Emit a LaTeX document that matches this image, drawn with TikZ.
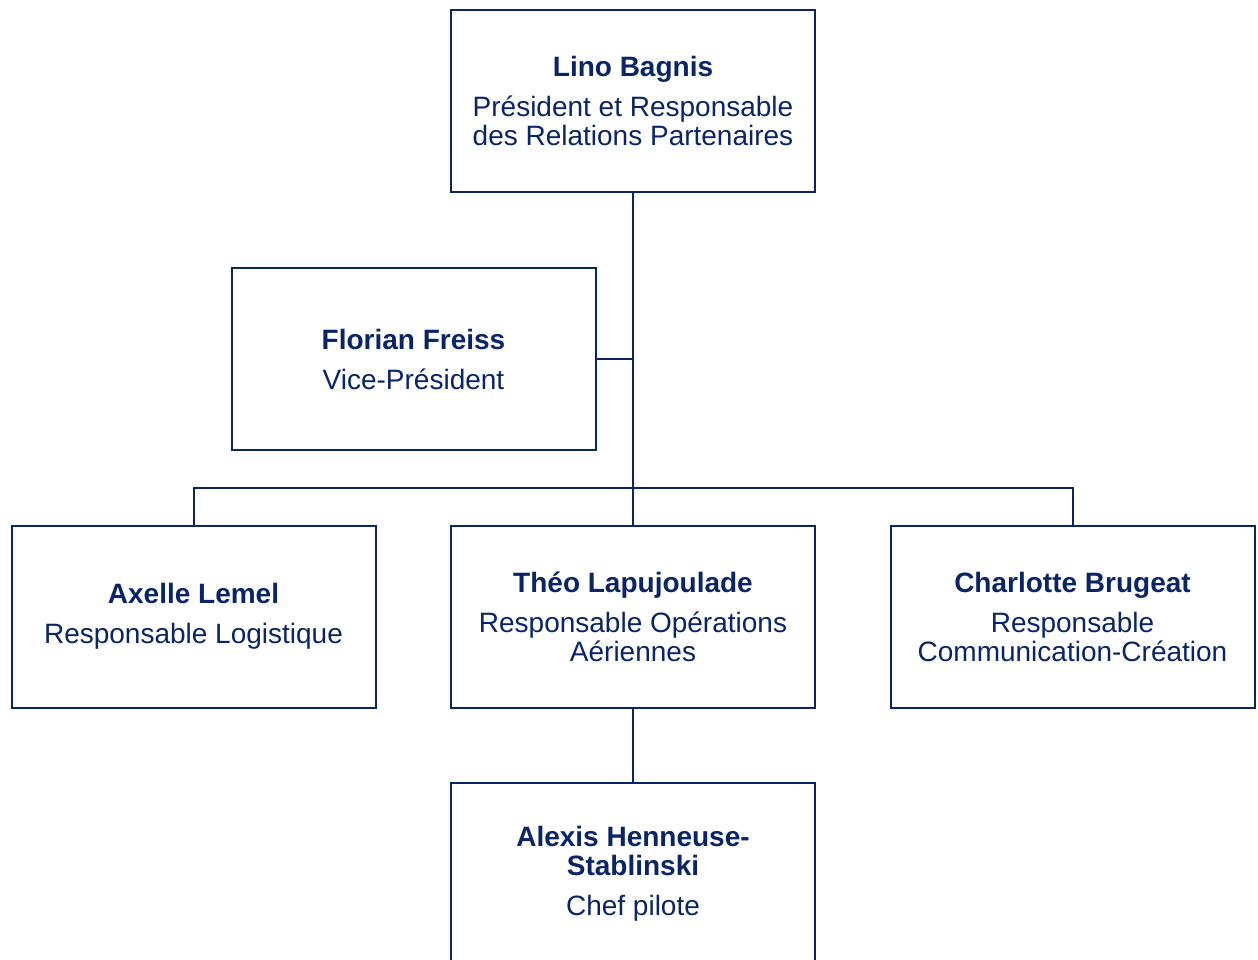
\documentclass[tikz,border=0pt]{standalone}
\usepackage{fontspec}
\setmainfont{Liberation Sans}
\definecolor{navy}{RGB}{10,36,104}

\begin{document}
\begin{tikzpicture}[
        x=1pt, y=-1pt,
        box/.style={draw=navy, line width=2pt, fill=white, minimum width=364pt, minimum height=182pt, align=center, text=navy, font=\fontsize{28}{29}\selectfont, inner sep=0pt},
        link/.style={draw=navy, line width=2pt}
    ]
        \useasboundingbox (0,0) rectangle (1258,960);
        \node[box] (lino) at (633,101) {\textbf{Lino Bagnis}\\[11pt]Président et Responsable\\des Relations Partenaires};
        \node[box] (florian) at (413.5,359) {\textbf{Florian Freiss}\\[11pt]Vice-Président};
        \node[box] (axelle) at (193.5,616.5) {\textbf{Axelle Lemel}\\[11pt]Responsable Logistique};
        \node[box] (theo) at (633,616.5) {\textbf{Théo Lapujoulade}\\[11pt]Responsable Opérations\\Aériennes};
        \node[box] (charlotte) at (1072.5,616.5) {\textbf{Charlotte Brugeat}\\[11pt]Responsable\\Communication-Création};
        \node[box] (alexis) at (633,874) {\textbf{Alexis Henneuse-}\\\textbf{Stablinski}\\[11pt]Chef pilote};
        \coordinate (bus) at (633,488);
        \draw[link] (lino.south) -- (theo.north);
        \draw[link] (florian.east) -- (florian.east -| lino.south);
        \draw[link] (axelle.north) |- (bus) -| (charlotte.north);
        \draw[link] (theo.south) -- (alexis.north);
    \end{tikzpicture}
\end{document}
